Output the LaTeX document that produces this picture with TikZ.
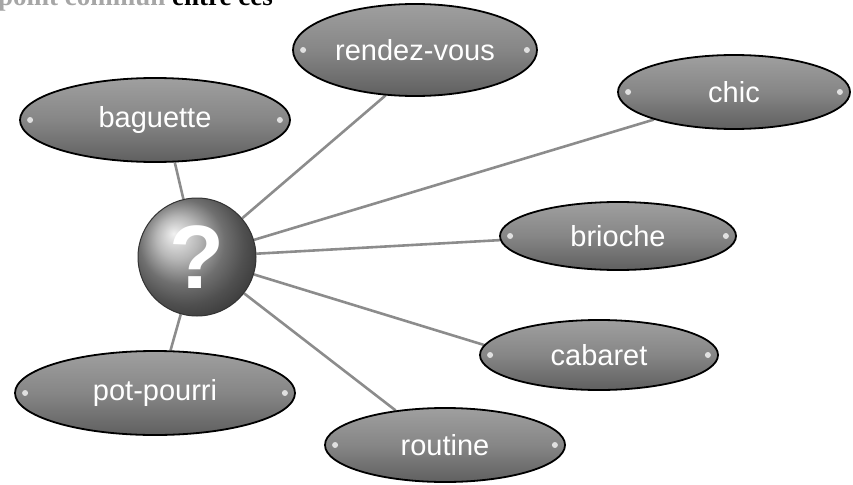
\documentclass[tikz,border=0pt]{standalone}
\usepackage{fontspec}
\setmainfont{Liberation Serif}
\newfontfamily\labfont{Liberation Sans}
\usetikzlibrary{shapes.geometric,backgrounds}
\definecolor{linkgray}{gray}{0.55}
\tikzset{
  wordbox/.style={ellipse, inner sep=0pt, draw=black, line width=1.8pt,
    top color=gray!75, bottom color=gray!75!black, middle color=gray!95,
    text=white, font=\labfont\fontsize{29}{29}\selectfont},
  link/.style={draw=linkgray, line width=2.6pt},
  shine/.style={fill=white, opacity=0.75}
}
\begin{document}
\begin{tikzpicture}[x=1pt,y=-1pt]
\useasboundingbox (0,0) rectangle (853,484);
\begin{scope}
  \clip (0,0) rectangle (853,40);
  \node[anchor=base west, inner sep=0pt, font=\bfseries\fontsize{27}{27}\selectfont] (title) at (-2,6)
    {\textcolor{gray!70}{point commun} entre ces};
\end{scope}

\node[wordbox, minimum width=270pt, minimum height=84pt] (bag) at (155,120) {baguette};
\node[wordbox, minimum width=244pt, minimum height=92pt] (rdv) at (415,50) {rendez-vous};
\node[wordbox, minimum width=232pt, minimum height=74pt] (chic) at (734,92) {chic};
\node[wordbox, minimum width=236pt, minimum height=68pt] (bri) at (618,236) {brioche};
\node[wordbox, minimum width=238pt, minimum height=70pt] (cab) at (599,355) {cabaret};
\node[wordbox, minimum width=240pt, minimum height=74pt] (rou) at (445,445) {routine};
\node[wordbox, minimum width=280pt, minimum height=84pt] (pot) at (155,393) {pot-pourri};

\node[circle, minimum size=118pt, inner sep=0pt, ball color=gray!75, draw=black!80, line width=1pt,
  text=white, font=\labfont\bfseries\fontsize{90}{90}\selectfont] (q) at (197,257) {?};

\begin{scope}[on background layer]
  \draw[link] (q) -- (bag.295);
  \draw[link] (q) -- (rdv.237);
  \draw[link] (q) -- (chic.199);
  \draw[link] (q) -- (bri.182);
  \draw[link] (q) -- (cab.175);
  \draw[link] (q) -- (rou.145);
  \draw[link] (q) -- (pot.70);
\end{scope}

\foreach \n in {bag,rdv,chic,bri,cab,rou,pot}{
  \fill[shine] ([xshift=11pt]\n.west) circle (3pt);
  \fill[shine] ([xshift=-11pt]\n.east) circle (3pt);
}
\end{tikzpicture}
\end{document}
